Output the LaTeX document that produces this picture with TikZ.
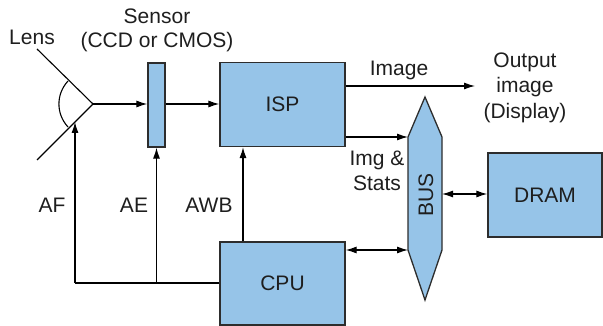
\documentclass[tikz,border=0pt]{standalone}
\usepackage{fontspec}
\setmainfont{Liberation Sans}
\usetikzlibrary{arrows.meta}
\definecolor{boxblue}{RGB}{150,196,232}
\definecolor{edgegray}{RGB}{45,45,45}
\definecolor{txt}{RGB}{30,30,30}
\begin{document}
\begin{tikzpicture}[x=1pt,y=-1pt,
 box/.style={draw=edgegray,fill=boxblue,line width=1.3pt,inner sep=0pt,text=txt,font=\fontsize{21}{24}\selectfont},
 lbl/.style={font=\fontsize{21}{25}\selectfont,inner sep=0pt,align=center,text=txt},
 wire/.style={line width=1.1pt},
 conn/.style={line width=1.1pt,-{Latex[length=11pt,width=7pt]}},
 dconn/.style={line width=1.1pt,{Latex[length=11pt,width=7pt]}-{Latex[length=11pt,width=7pt]}}]
\useasboundingbox (0,0) rectangle (603,326);
% boxes
\node[box,minimum width=17pt,minimum height=84pt] (sensor) at (156.5,105) {};
\node[box,minimum width=125pt,minimum height=84pt] (isp) at (282.5,104.5) {ISP};
\node[box,minimum width=125pt,minimum height=83pt] (cpu) at (282.5,283.5) {CPU};
\node[box,minimum width=114pt,minimum height=84pt] (dram) at (545,195) {DRAM};
% bus
\draw[draw=edgegray,fill=boxblue,line width=1.3pt] (425,97) -- (442,137) -- (442,250) -- (425,300) -- (408,250) -- (408,137) -- cycle;
\node[lbl,rotate=90] (bus) at (426,195) {BUS};
\coordinate (busl1) at (408,137);
\coordinate (busl2) at (408,250);
\coordinate (busr) at (442,194);
% lens
\coordinate (apex) at (93,104);
\draw[wire] (37,49) -- (apex) -- (37,160);
\draw[wire] (68,81) .. controls (55.9,94.2) and (55.9,113.8) .. (68,127);
% connectors
\draw[conn] (apex) -- (apex -| sensor.west);
\draw[conn] (sensor.east |- apex) -- (isp.west |- apex);
\coordinate (imgend) at (475,86);
\draw[conn] (isp.east |- imgend) -- (imgend);
\draw[conn] (isp.east |- busl1) -- (busl1);
\draw[dconn] (cpu.east |- busl2) -- (busl2);
\draw[dconn] (busr) -- (dram.west |- busr);
\coordinate (awbx) at (243,200);
\draw[conn] (cpu.north -| awbx) -- (isp.south -| awbx);
\coordinate (afcorner) at (75,283);
\coordinate (aftip) at (75,122);
\draw[wire] (cpu.west |- afcorner) -- (afcorner);
\draw[conn] (afcorner) -- (aftip);
\draw[conn] (sensor.south |- afcorner) -- (sensor.south);
% labels
\node[lbl] (lens) at (32,37) {Lens};
\node[lbl,font=\fontsize{21}{24}\selectfont] (sensorlbl) at (157,30) {Sensor\\(CCD or CMOS)};
\node[lbl] (imagelbl) at (399,70) {Image};
\node[lbl,font=\fontsize{21}{25.5}\selectfont] (outlbl) at (525,87.5) {Output\\image\\(Display)};
\node[lbl] (statslbl) at (377,170.5) {Img \&\\Stats};
\node[lbl] (af) at (52,205) {AF};
\node[lbl] (ae) at (134,205) {AE};
\node[lbl] (awb) at (209,205) {AWB};
\end{tikzpicture}
\end{document}
